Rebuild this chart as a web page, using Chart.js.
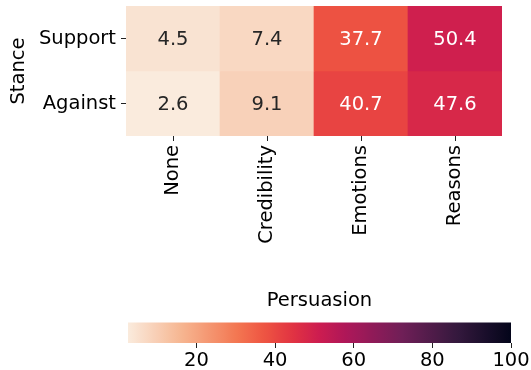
<!DOCTYPE html>
<html>
<head>
<meta charset="utf-8">
<script src="https://cdn.jsdelivr.net/npm/chart.js@4/dist/chart.umd.min.js"></script>
<style>
  body { margin: 0; background: #fff; }
  #wrap { position: relative; width: 531px; height: 370px; }
  canvas { position: absolute; left: 0; }
  #heat { top: 0; }
  #cbar { top: 280px; }
</style>
</head>
<body>
<div id="wrap">
  <canvas id="heat" width="531" height="280"></canvas>
  <canvas id="cbar" width="531" height="90"></canvas>
</div>
<script>
const persuasion = ['None', 'Credibility', 'Emotions', 'Reasons'];
const stances = ['Support', 'Against'];
const supportVals = [4.5, 7.4, 37.7, 50.4];
const againstVals = [2.6, 9.1, 40.7, 47.6];
const cbarTicks = [20, 40, 60, 80, 100];

const vmin = Math.min(...supportVals, ...againstVals);
const vmax = 100;

// rocket_r, light to dark
const rocketR = [
  [0.000, [250, 235, 221]],
  [0.143, [246, 180, 143]],
  [0.286, [243, 118, 81]],
  [0.357, [238, 84, 66]],
  [0.429, [225, 51, 66]],
  [0.500, [204, 28, 80]],
  [0.571, [173, 23, 89]],
  [0.714, [112, 31, 87]],
  [0.857, [53, 25, 62]],
  [1.000, [3, 5, 26]]
];

function cmap(t) {
  t = Math.max(0, Math.min(1, t));
  for (let i = 1; i < rocketR.length; i++) {
    const [p1, c1] = rocketR[i];
    const [p0, c0] = rocketR[i - 1];
    if (t <= p1) {
      const f = (t - p0) / (p1 - p0);
      return c0.map((c, k) => Math.round(c + (c1[k] - c) * f));
    }
  }
  return rocketR[rocketR.length - 1][1];
}
const rgb = c => `rgb(${c[0]},${c[1]},${c[2]})`;
const colorFor = v => cmap((v - vmin) / (vmax - vmin));

function luminance(c) {
  const lin = c.map(x => {
    x /= 255;
    return x <= 0.03928 ? x / 12.92 : Math.pow((x + 0.055) / 1.055, 2.4);
  });
  return 0.2126 * lin[0] + 0.7152 * lin[1] + 0.0722 * lin[2];
}

const FONT = 'DejaVu Sans';
const FS = 19.5;

const annotate = {
  id: 'annotate',
  afterDatasetsDraw(chart) {
    const ctx = chart.ctx;
    ctx.save();
    ctx.font = `${FS}px "${FONT}"`;
    ctx.textAlign = 'center';
    ctx.textBaseline = 'middle';
    chart.data.datasets.forEach((ds, di) => {
      chart.getDatasetMeta(di).data.forEach((bar, i) => {
        const v = ds.values[i];
        ctx.fillStyle = luminance(colorFor(v)) > 0.408 ? '#262626' : '#ffffff';
        ctx.fillText(v.toFixed(1), bar.x, (bar.y + bar.base) / 2 + 1);
      });
    });
    ctx.restore();
  }
};

const rows = [supportVals, againstVals];

new Chart(document.getElementById('heat'), {
  type: 'bar',
  data: {
    labels: persuasion,
    datasets: rows.map((vals, r) => ({
      label: stances[r],
      values: vals,
      data: vals.map(() => [r, r + 1]),
      backgroundColor: vals.map(v => rgb(colorFor(v))),
      borderWidth: 0,
      barPercentage: 1,
      categoryPercentage: 1,
      grouped: false
    }))
  },
  options: {
    responsive: false,
    animation: false,
    layout: { padding: { top: 6, right: 29, left: 0, bottom: 0 } },
    plugins: { legend: { display: false }, tooltip: { enabled: false } },
    scales: {
      x: {
        afterFit: s => { s.height = 144; s.paddingLeft = 0; s.paddingRight = 0; },
        grid: { offset: false, drawOnChartArea: false, tickLength: 5, color: '#222' },
        border: { display: false },
        ticks: {
          color: '#000', autoSkip: false, minRotation: 90, maxRotation: 90,
          padding: 4, font: { family: FONT, size: FS }
        }
      },
      y: {
        min: 0, max: 2, reverse: true,
        afterFit: s => { s.width = 126; s.paddingTop = 0; s.paddingBottom = 0; },
        afterBuildTicks: s => { s.ticks = [{ value: 0.5 }, { value: 1.5 }]; },
        grid: { drawOnChartArea: false, tickLength: 5, color: '#222' },
        border: { display: false },
        ticks: {
          color: '#000', padding: 5, font: { family: FONT, size: FS },
          callback: v => stances[Math.floor(v)]
        },
        title: {
          display: true, text: 'Stance', color: '#000',
          font: { family: FONT, size: FS }, padding: { top: 7, bottom: 2 }
        }
      }
    }
  },
  plugins: [annotate]
});

new Chart(document.getElementById('cbar'), {
  type: 'bar',
  data: {
    labels: [''],
    datasets: [{
      data: [[vmin, vmax]],
      backgroundColor: ctx => {
        const area = ctx.chart.chartArea;
        if (!area) return 'transparent';
        const g = ctx.chart.ctx.createLinearGradient(area.left, 0, area.right, 0);
        for (let i = 0; i <= 60; i++) g.addColorStop(i / 60, rgb(cmap(i / 60)));
        return g;
      },
      borderWidth: 0,
      barPercentage: 1,
      categoryPercentage: 1
    }]
  },
  options: {
    indexAxis: 'y',
    responsive: false,
    animation: false,
    layout: { padding: { left: 128, right: 20, top: 0, bottom: 0 } },
    plugins: {
      legend: { display: false }, tooltip: { enabled: false },
      title: {
        display: true, text: 'Persuasion', color: '#000',
        font: { family: FONT, size: FS, weight: 'normal' },
        padding: { top: 9, bottom: 10 }
      }
    },
    scales: {
      x: {
        min: vmin, max: vmax,
        afterFit: s => { s.height = 27; },
        afterBuildTicks: s => { s.ticks = cbarTicks.map(v => ({ value: v })); },
        grid: { drawOnChartArea: false, tickLength: 5, color: '#222' },
        border: { display: false },
        ticks: { color: '#000', padding: 1, font: { family: FONT, size: FS } }
      },
      y: { display: false }
    }
  }
});
</script>
</body>
</html>
